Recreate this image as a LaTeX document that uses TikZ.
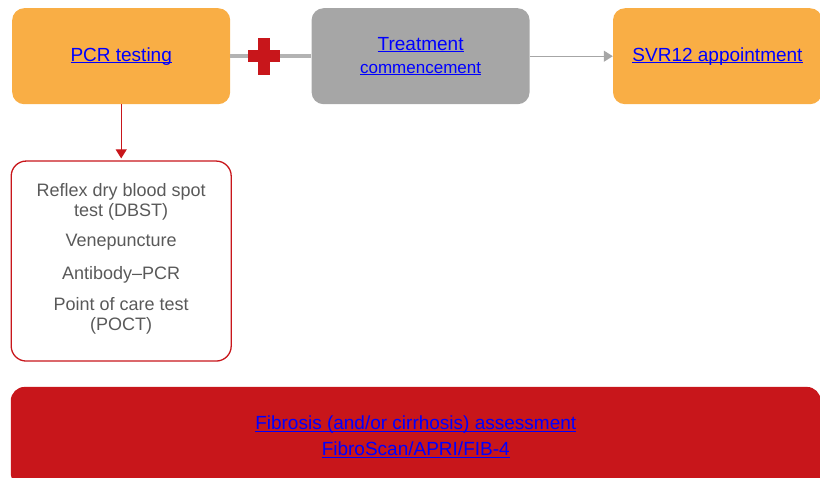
\documentclass[tikz,border=0pt]{standalone}
\usepackage{fontspec}
\setmainfont{Liberation Sans}
\usetikzlibrary{positioning,arrows.meta}

\definecolor{hcvorange}{HTML}{F9AE45}
\definecolor{hcvgrey}{HTML}{A6A6A6}
\definecolor{hcvred}{HTML}{C8161B}
\definecolor{hcvtext}{HTML}{595959}
\definecolor{hcvblue}{HTML}{0000FF}

% link text: underline just below the baseline
\newcommand{\linktext}[1]{%
	\setbox0\hbox{#1}\rlap{\rule[-2.2pt]{\wd0}{0.9pt}}\box0}

\tikzset{
	hcvpicture/.style = {
		x = 1pt,
		y = 1pt,
		node distance = 81pt,
		arrow/.style = {
			draw,
			-{Triangle[length=9pt,width=11pt]},
		}
	},
	stagenode/.style = {
		rectangle,
		rounded corners = 12pt,
		minimum width = 218pt,
		minimum height = 96pt,
		inner sep = 0pt,
		align = center,
		text = hcvblue,
		font = \fontsize{19}{22}\selectfont
	},
	stage-orange/.style = {
		stagenode,
		fill = hcvorange
	},
	stage-grey/.style = {
		stagenode,
		fill = hcvgrey
	},
	listnode/.style = {
		draw = hcvred,
		line width = 1.3pt,
		rounded corners = 15pt,
		minimum width = 220pt,
		minimum height = 200pt,
		align = center,
		text = hcvtext,
		font = \fontsize{18}{20}\selectfont
	},
	barnode/.style = {
		fill = hcvred,
		rounded corners = 14pt,
		minimum width = 810pt,
		minimum height = 100pt,
		align = center,
		text = hcvblue,
		font = \fontsize{19}{26}\selectfont
	},
	plusbar/.style = {
		fill = hcvred,
		inner sep = 0pt
	}
}

\begin{document}
\begin{tikzpicture}[hcvpicture]
	\clip (0,0) rectangle (820,-477);
	\node[stage-orange, anchor=north west] (pcr) at (12,-8) {\linktext{PCR testing}};
	\node[stage-grey, right = 81pt of pcr] (treat) {\linktext{Treatment}\\[1pt]{\fontsize{17}{19}\selectfont\linktext{commencement}}};
	\node[stage-orange, minimum width=209pt, right = 83pt of treat] (svr) {\linktext{SVR12 appointment}};
	\node[listnode, below = 56pt of pcr] (tests) {Reflex dry blood spot\\test (DBST)\\[10pt]Venepuncture\\[13pt]Antibody--PCR\\[11pt]Point of care test\\(POCT)\rule[-9pt]{0pt}{9pt}};
	\node[barnode, below right = 25pt and 0pt of tests.south west] (fibrosis) {\linktext{Fibrosis (and/or cirrhosis) assessment}\\\linktext{FibroScan/APRI/FIB-4}};

	\draw[hcvgrey!85, line width=3.5pt] (pcr) -- (treat) coordinate[pos=0.42] (plus);
	\node[plusbar, minimum width=12pt, minimum height=37pt] (plusv) at (plus) {};
	\node[plusbar, minimum width=32pt, minimum height=12pt] (plush) at (plus) {};

	\begin{scope}[every path/.style = arrow]
		\path[draw=hcvgrey, fill=hcvgrey, line width=1.3pt] (treat) -- (svr);
		\path[draw=hcvred, fill=hcvred, line width=1.1pt, shorten >=2pt] (pcr.south) -- (pcr.south |- tests.north);
	\end{scope}
\end{tikzpicture}
\end{document}
